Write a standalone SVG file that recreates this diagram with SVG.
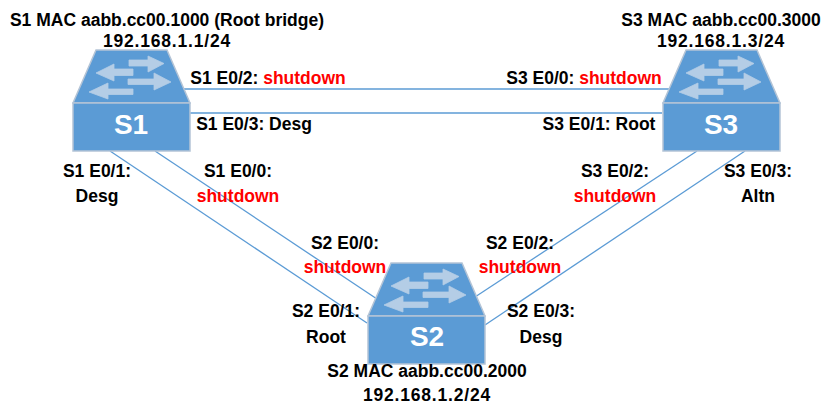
<svg xmlns="http://www.w3.org/2000/svg" width="831" height="418" viewBox="0 0 831 418">
<style>
text{font-family:"Liberation Sans",Arial,sans-serif;font-weight:700;font-size:17.5px;fill:#000;text-anchor:middle}
.r{fill:#ff0000}
.ip{letter-spacing:.8px}
.n{font-size:28px;fill:#fff}
.c line{stroke:#5b9bd5;stroke-width:1.3;fill:none}
.top{fill:#5b9bd5;stroke:#b4c4d6;stroke-width:1.5}
.arr{fill:#b4cde6;stroke:#b4cde6;stroke-width:.8}
</style>
<defs>
<g id="sw">
<path class="top" d="M23 0H94L117 53H0Z"/>
<rect class="top" x="0" y="53" width="117" height="48"/>
<path class="arr" d="M56 10H75V6L91 13.500 75 22V16H56Z"/>
<path class="arr" d="M60 19H41V14L23 23 41 31V25.500H60Z"/>
<path class="arr" d="M55 29H81V23L98 32 81 40V34.500H55Z"/>
<path class="arr" d="M60 39H35V33L16 42 35 49V44.500H60Z"/>
</g>
</defs>
<rect width="831" height="418" fill="#fff"/>
<g class="c" id="connectors">
<line x1="182" y1="89" x2="669" y2="89"/>
<line x1="190" y1="113" x2="662" y2="113"/>
<line x1="110" y1="151" x2="367" y2="323"/>
<line x1="155" y1="151" x2="377" y2="299"/>
<line x1="475" y1="297" x2="697" y2="151"/>
<line x1="485" y1="325" x2="745" y2="151"/>
</g>
<g id="S1"><use href="#sw" x="73" y="50"/><text class="n" x="131" y="134">S1</text></g>
<g id="S2"><use href="#sw" x="368" y="263"/><text class="n" x="427" y="346">S2</text></g>
<g id="S3"><use href="#sw" x="663" y="50"/><text class="n" x="721" y="134">S3</text></g>
<g id="labels">
<text x="167" y="26">S1 MAC aabb.cc00.1000 (Root bridge)</text>
<text class="ip" x="167" y="47">192.168.1.1/24</text>
<text x="721" y="26">S3 MAC aabb.cc00.3000</text>
<text class="ip" x="721" y="47">192.168.1.3/24</text>
<text x="268" y="84">S1 E0/2: <tspan class="r">shutdown</tspan></text>
<text x="584" y="84">S3 E0/0: <tspan class="r">shutdown</tspan></text>
<text x="254" y="130">S1 E0/3: Desg</text>
<text x="599" y="130">S3 E0/1: Root</text>
<text x="97" y="177">S1 E0/1:</text>
<text x="97" y="202">Desg</text>
<text x="238" y="177">S1 E0/0:</text>
<text class="r" x="238" y="202">shutdown</text>
<text x="615" y="177">S3 E0/2:</text>
<text class="r" x="615" y="202">shutdown</text>
<text x="758" y="177">S3 E0/3:</text>
<text x="758" y="202">Altn</text>
<text x="345" y="249">S2 E0/0:</text>
<text class="r" x="345" y="273">shutdown</text>
<text x="520" y="249">S2 E0/2:</text>
<text class="r" x="520" y="273">shutdown</text>
<text x="326" y="317">S2 E0/1:</text>
<text x="326" y="343">Root</text>
<text x="541" y="317">S2 E0/3:</text>
<text x="541" y="343">Desg</text>
<text x="427" y="377">S2 MAC aabb.cc00.2000</text>
<text class="ip" x="427" y="401">192.168.1.2/24</text>
</g>
</svg>
